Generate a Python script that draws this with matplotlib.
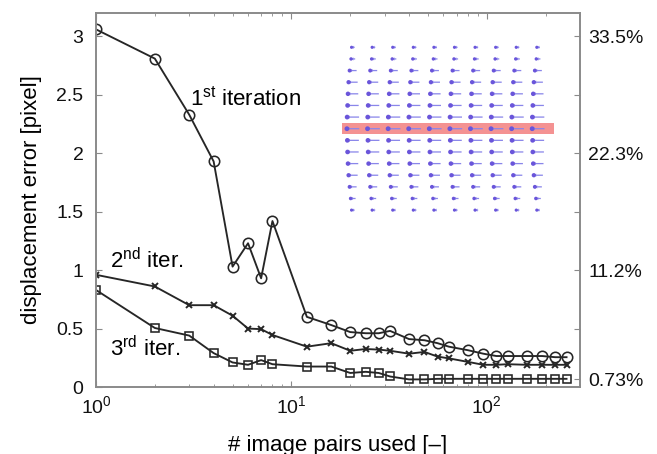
import numpy as np
import matplotlib
matplotlib.use("Agg")
import matplotlib.pyplot as plt

plt.rcParams['font.family'] = ['Liberation Sans', 'DejaVu Sans']
plt.rcParams['mathtext.fontset'] = 'custom'
plt.rcParams['mathtext.rm'] = 'Liberation Sans'
plt.rcParams['mathtext.it'] = 'Liberation Sans:italic'
plt.rcParams['mathtext.bf'] = 'Liberation Sans:bold'

# ---- data ----
n_pairs = [1, 2, 3, 4, 5, 6, 7, 8, 12, 16, 20, 24, 28, 32, 40, 48, 56, 64, 80, 96,
           112, 128, 160, 192, 224, 256]
err_1st = [3.06, 2.81, 2.33, 1.93, 1.03, 1.23, 0.93, 1.42, 0.60, 0.53, 0.47, 0.46,
           0.46, 0.48, 0.41, 0.40, 0.375, 0.345, 0.315, 0.285, 0.265, 0.265, 0.265,
           0.265, 0.255, 0.255]
err_2nd = [0.96, 0.86, 0.70, 0.70, 0.61, 0.50, 0.495, 0.445, 0.345, 0.375, 0.31, 0.325,
           0.32, 0.31, 0.285, 0.30, 0.26, 0.245, 0.215, 0.19, 0.19, 0.195, 0.19, 0.19,
           0.19, 0.19]
err_3rd = [0.83, 0.505, 0.44, 0.29, 0.21, 0.19, 0.23, 0.195, 0.175, 0.175, 0.12, 0.13,
           0.12, 0.09, 0.065, 0.065, 0.07, 0.07, 0.07, 0.07, 0.07, 0.07, 0.07, 0.07,
           0.07, 0.07]

left_ticks = [0, 0.5, 1, 1.5, 2, 2.5, 3]
left_labels = ['0', '0.5', '1', '1.5', '2', '2.5', '3']
right_ticks = [3, 2.5, 2, 1.5, 1, 0.5, 0.065]
right_labels = ['33.5%', '', '22.3%', '', '11.2%', '', '0.73%']

# inset vector field: 10 columns x 15 rows, arrow magnitude per row
field_cols = [1, 2, 3, 4, 5, 6, 7, 8, 9, 10]
field_rows = [1, 2, 3, 4, 5, 6, 7, 8, 9, 10, 11, 12, 13, 14, 15]
row_magnitude = [0.15, 0.2, 0.34, 0.44, 0.5, 0.54, 0.58, 0.6, 0.56, 0.54, 0.5,
                 0.44, 0.34, 0.24, 0.15]
highlight_row = 8

W, H = 657, 454
fig = plt.figure(figsize=(W / 100, H / 100), dpi=100)
ax = fig.add_axes([96 / W, 1 - 387 / H, 484 / W, 374 / H])

line_kw = dict(color='#262626', lw=1.35, mfc='none', mec='#262626')
ax.plot(n_pairs, err_1st, marker='o', ms=7.5, mew=1.15, **line_kw)
ax.plot(n_pairs, err_2nd, marker='x', ms=5, mew=1.4, **line_kw)
ax.plot(n_pairs, err_3rd, marker='s', ms=5.5, mew=1.15, **line_kw)

ax.set_xscale('log')
ax.set_xlim(1, 300)
ax.set_ylim(0, 3.2)
ax.set_yticks(left_ticks)
ax.set_yticklabels(left_labels)
ax.set_xticks([1, 10, 100])
ax.set_xticklabels([r'$10^{0}$', r'$10^{1}$', r'$10^{2}$'])

spine_c = '#8a8a8a'
for s in ax.spines.values():
    s.set_color(spine_c)
    s.set_linewidth(1.2)
ax.tick_params(which='both', direction='in', top=True, color=spine_c,
               labelsize=14, labelcolor='#111111')
ax.tick_params(axis='y', which='major', length=4, pad=9)
ax.tick_params(axis='x', which='major', length=4, pad=6)
ax.tick_params(axis='x', which='minor', length=2.5)

ax.set_xlabel('# image pairs used [–]', fontsize=16, va='center')
ax.xaxis.set_label_coords(0.5, (387 - 445) / 374)
ax.set_ylabel('displacement error [pixel]', fontsize=16, va='center')
ax.yaxis.set_label_coords((32 - 96) / 484, 0.5)

tw = ax.twinx()
tw.set_ylim(ax.get_ylim())
tw.set_yticks(right_ticks)
tw.set_yticklabels(right_labels)
for s in tw.spines.values():
    s.set_color(spine_c)
    s.set_linewidth(1.2)
tw.tick_params(direction='in', color=spine_c, length=4, pad=6, labelsize=14,
               labelcolor='#111111')

ax.text(3.02, 2.41, r'1$^{\mathrm{st}}$ iteration', fontsize=16, va='baseline')
ax.text(1.18, 1.02, r'2$^{\mathrm{nd}}$ iter.', fontsize=16, va='baseline')
ax.text(1.18, 0.26, r'3$^{\mathrm{rd}}$ iter.', fontsize=16, va='baseline')

# inset
ins = fig.add_axes([342 / W, 1 - 220 / H, 212 / W, 182 / H])
ins.set_xlim(0.46, 10.76)
ins.set_ylim(15.85, 0.2)
ins.axis('off')
ins.axhspan(highlight_row - 0.47, highlight_row + 0.47, color='#f48c8c', alpha=0.95, lw=0)
X, Y = np.meshgrid(field_cols, field_rows)
mag = np.repeat(np.array(row_magnitude)[:, None], len(field_cols), axis=1)
U = -mag
V = np.zeros_like(U)
ins.quiver(X, Y, U, V, angles='xy', scale_units='xy', scale=1, pivot='middle',
           color='#8a86ea', width=0.006, headwidth=2.5, headlength=2.0,
           headaxislength=1.8)
hx = X + U / 2
ins.scatter(hx.ravel(), Y.ravel(), s=(3 + 9 * mag / 0.6).ravel(), color='#6a55da',
            lw=0, zorder=3)

fig.savefig('out.png', dpi=100)
